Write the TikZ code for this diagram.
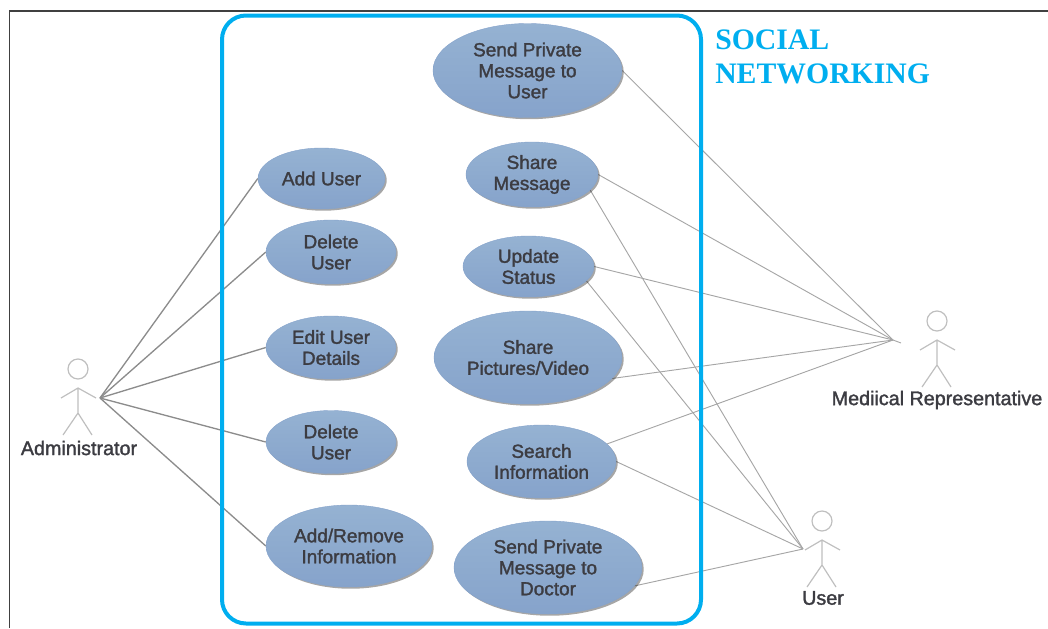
\documentclass[tikz,border=0pt]{standalone}
\usepackage{fontspec}
\usetikzlibrary{shapes.geometric,shadows,backgrounds}
\newfontfamily\labelfont[FakeBold=1.6]{Liberation Sans}
\newfontfamily\titlefont{Liberation Serif}
\definecolor{framecol}{HTML}{00AEEF}
\definecolor{ovaltop}{HTML}{95B2D2}
\definecolor{ovalbot}{HTML}{86A3CB}
\definecolor{textcol}{HTML}{3C3C42}
\tikzset{
	usecase/.style 2 args={ellipse, inner sep=0pt, align=center, text=textcol,
		minimum width=#1*0.75pt, minimum height=#2*0.75pt,
		top color=ovaltop, bottom color=ovalbot, draw=ovalbot, line width=0.3pt,
		drop shadow={shadow xshift=1.3pt, shadow yshift=-1.3pt, fill=black, opacity=0.35},
		font=\labelfont\fontsize{14.25}{15.75}\selectfont},
	actorname/.style={inner sep=0pt, text=textcol, font=\labelfont\fontsize{14.8}{15.75}\selectfont},
	assoc/.style={draw=gray!90, line width=1pt},
	assoclight/.style={draw=gray!70, line width=0.7pt},
	actor/.pic={
		\draw[draw=gray!50, line width=0.9pt] (0,-19) circle[radius=10*0.75pt]
			(0,0) -- (0,25) (-17,10) -- (0,0) -- (18,10)
			(-15,47) -- (0,25) -- (14,47);
	}
}

\begin{document}
\begin{tikzpicture}[x=0.75pt, y=-0.75pt]
	\useasboundingbox (0,0) rectangle (1048,628);

	%ACTORS
	\pic (admin) at (78,388) {actor};
	\pic (medrep) at (937,340) {actor};
	\pic (patient) at (822,540) {actor};
	\node[actorname] (adminlabel) at (79,448) {Administrator};
	\node[actorname] (medreplabel) at (937,400) {Mediical Representative};
	\node[actorname] (patientlabel) at (823,598) {User};
	\coordinate (adminhand) at (100,398);
	\coordinate (medhand) at (893,340);
	\coordinate (medtail) at (901,343);
	\coordinate (patienthand) at (803,549);

	%USE CASES LEFT
	\node[usecase={127}{61}] (adduser) at (321.5,178.5) {Add User};
	\node[usecase={130}{64}] (deluserA) at (331,252) {Delete\\User};
	\node[usecase={130}{63}] (edituser) at (331,347.5) {Edit User\\Details};
	\node[usecase={130}{63}] (deluserB) at (331,442) {Delete\\User};
	\node[usecase={166}{82}] (addremove) at (349,546) {Add/Remove\\Information};

	%USE CASES RIGHT
	\node[usecase={189}{94}] (sendpriv) at (527.5,70.5) {Send Private\\Message to\\User};
	\node[usecase={132}{65}] (sharemsg) at (532,174.5) {Share\\Message};
	\node[usecase={131}{61}] (update) at (528.5,266.5) {Update\\Status};
	\node[usecase={188}{93}] (sharepic) at (528,357.5) {Share\\Pictures/Video};
	\node[usecase={149}{73}] (search) at (541.5,461.5) {Search\\Information};
	\node[usecase={188}{93}] (senddoc) at (548,567.5) {Send Private\\Message to\\Doctor};

	%TITLE
	\node[anchor=west, inner sep=0pt, text=framecol, align=left,
		font=\titlefont\bfseries\fontsize{22.3}{25.5}\selectfont] (title) at (715,57) {SOCIAL\\NETWORKING};

	%LINES
	\begin{scope}[on background layer]
		\foreach \usecase in {adduser,deluserA,edituser,deluserB,addremove}
			\draw[assoc] (adminhand) -- (\usecase.west);

		\draw[assoclight] (sendpriv.east) -- (medhand);
		\draw[assoclight] (sharemsg.east) -- (medhand);
		\draw[assoclight] (update.east) -- (medhand);
		\draw[assoclight] (sharepic.-14) -- (medhand);
		\draw[assoclight] (search.15) -- (medhand);
		\draw[assoclight] (medhand) -- (medtail);

		\draw[assoclight] (sharemsg.-15) -- (patienthand);
		\draw[assoclight] (update.-14) -- (patienthand);
		\draw[assoclight] (search.east) -- (patienthand);
		\draw[assoclight] (senddoc.-12) -- (patienthand);

		\node[draw=framecol, line width=3pt, rounded corners=18pt, inner sep=0pt,
			minimum width=479*0.75pt, minimum height=608*0.75pt] (system) at (461.5,319.5) {};

		\draw[black!75, line width=1.1pt] (9.5,628) -- (9.5,11) -- (1048,11);
	\end{scope}
\end{tikzpicture}
\end{document}
